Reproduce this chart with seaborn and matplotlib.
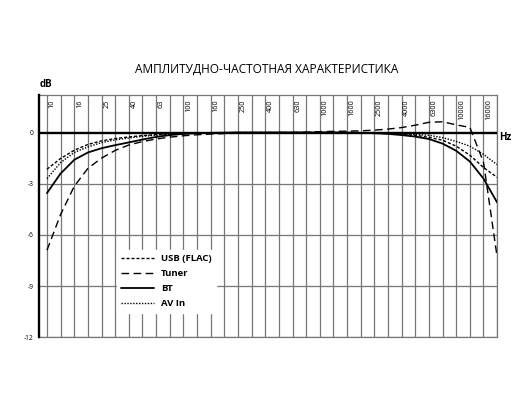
import matplotlib
matplotlib.use("Agg")
import matplotlib.pyplot as plt
import matplotlib.transforms as mtransforms
import seaborn as sns
import pandas as pd
import numpy as np

# 1/3-octave band centre frequencies (Hz)
bands = ["10", "12.5", "16", "20", "25", "31.5", "40", "50", "63", "80", "100", "125",
         "160", "200", "250", "315", "400", "500", "630", "800", "1000", "1250", "1600",
         "2000", "2500", "3150", "4000", "5000", "6300", "8000", "10000", "12500",
         "16000", "20000"]
tick_labels = ["10", "16", "25", "40", "63", "100", "160", "250", "400", "630", "1000",
               "1600", "2500", "4000", "6300", "10000", "16000"]

usb_flac = [-2.15, -1.52, -1.04, -0.70, -0.49, -0.35, -0.26, -0.18, -0.12, -0.08, -0.05,
            -0.03, -0.02, -0.01, 0, 0, 0, 0, 0, 0, 0, 0, 0, -0.01, -0.03, -0.06, -0.10,
            -0.16, -0.28, -0.45, -0.80, -1.33, -2.05, -2.63]
tuner = [-6.9, -4.8, -3.15, -2.1, -1.5, -1.05, -0.73, -0.53, -0.38, -0.27, -0.19, -0.13,
         -0.09, -0.06, -0.04, -0.02, -0.01, 0, 0, 0.02, 0.05, 0.07, 0.08, 0.10, 0.14, 0.20,
         0.29, 0.43, 0.60, 0.63, 0.45, 0.30, -1.74, -7.3]
bt = [-3.55, -2.4, -1.6, -1.17, -0.92, -0.74, -0.58, -0.41, -0.26, -0.15, -0.08, -0.04,
      -0.02, -0.01, 0, 0, 0, 0, 0, 0, 0, 0, -0.01, -0.02, -0.04, -0.08, -0.15, -0.24,
      -0.38, -0.65, -1.07, -1.70, -2.70, -4.1]
av_in = [-2.7, -1.76, -1.17, -0.84, -0.59, -0.43, -0.32, -0.22, -0.16, -0.10, -0.06,
         -0.04, -0.02, -0.01, 0, 0, 0, 0, 0, 0, 0, 0, 0, -0.01, -0.02, -0.04, -0.07,
         -0.11, -0.16, -0.30, -0.52, -0.80, -1.28, -1.88]
series_names = ["USB (FLAC)", "Tuner", "BT", "AV In"]
yticks = [0, -3, -6, -9, -12]

df = pd.DataFrame({
    "band": list(range(len(bands))) * 4,
    "db": usb_flac + tuner + bt + av_in,
    "series": sum([[n] * len(bands) for n in series_names], []),
})

sns.set_style("white")
plt.rcParams["font.family"] = ["Open Sans", "DejaVu Sans"]
plt.rcParams["lines.scale_dashes"] = False
plt.rcParams["text.color"] = "black"
plt.rcParams["ytick.color"] = "black"
plt.rcParams["xtick.color"] = "black"

fig = plt.figure(figsize=(5.3, 4.0), dpi=100)
ax = fig.add_axes([0.0745, 0.157, 0.8635, 0.6055])

styles = {
    "USB (FLAC)": dict(linestyle=(0, (2.2, 1.4)), linewidth=1.0),
    "Tuner": dict(linestyle=(0, (5.5, 3.2)), linewidth=1.0),
    "BT": dict(linestyle="-", linewidth=1.3),
    "AV In": dict(linestyle=(0, (1.0, 1.1)), linewidth=1.0),
}
for name in series_names:
    sub = df[df["series"] == name]
    sns.lineplot(data=sub, x="band", y="db", ax=ax, color="black", label=name,
                 estimator=None, zorder=5, **styles[name])

ax.set_xlim(-0.55, len(bands) - 1)
ax.set_ylim(-12, 2.2)

# grid
for i in range(len(bands)):
    ax.axvline(i, color="#777777", linewidth=0.9, zorder=1)
for v in yticks[1:]:
    ax.axhline(v, color="#777777", linewidth=0.9, zorder=1)
ax.axhline(0, color="black", linewidth=1.7, zorder=4)

for s in ["top", "right", "bottom"]:
    ax.spines[s].set_color("#777777")
    ax.spines[s].set_linewidth(0.9)
ax.spines["left"].set_color("black")
ax.spines["left"].set_linewidth(1.7)
ax.spines["left"].set_zorder(6)

ax.set_xticks([])
ax.set_yticks(yticks)
ax.set_yticklabels([str(v) for v in yticks], fontsize=4.8, color="black")
ax.tick_params(axis="y", length=0, pad=4)
ax.set_xlabel("")
ax.set_ylabel("")

trans = mtransforms.blended_transform_factory(ax.transData, ax.transAxes)
for lab in tick_labels:
    i = bands.index(lab)
    ax.text(i + 0.38, 0.982, lab, rotation=90, ha="center", va="top",
            fontsize=5.2, color="black", transform=trans, zorder=3)

leg = ax.legend(loc="lower left", bbox_to_anchor=(0.158, 0.082), frameon=True,
                fancybox=False, framealpha=1, edgecolor="white", facecolor="white",
                handlelength=3.5, handletextpad=0.7, labelspacing=0.62,
                borderpad=0.5, prop=dict(weight="bold", size=6.8))
leg.set_zorder(7)
for t in leg.get_texts():
    t.set_color("black")

fig.text(0.503, 1 - 69 / 400, "АМПЛИТУДНО-ЧАСТОТНАЯ ХАРАКТЕРИСТИКА",
         ha="center", va="center", fontsize=8.6, color="black")
fig.text(39.5 / 530, 1 - 84.5 / 400, "dB", ha="left", va="center",
         fontsize=7, fontweight="bold", color="black")
fig.text(499 / 530, 1 - 137 / 400, "Hz", ha="left", va="center",
         fontsize=7, fontweight="bold", color="black")

fig.savefig("out.png", dpi=100)
